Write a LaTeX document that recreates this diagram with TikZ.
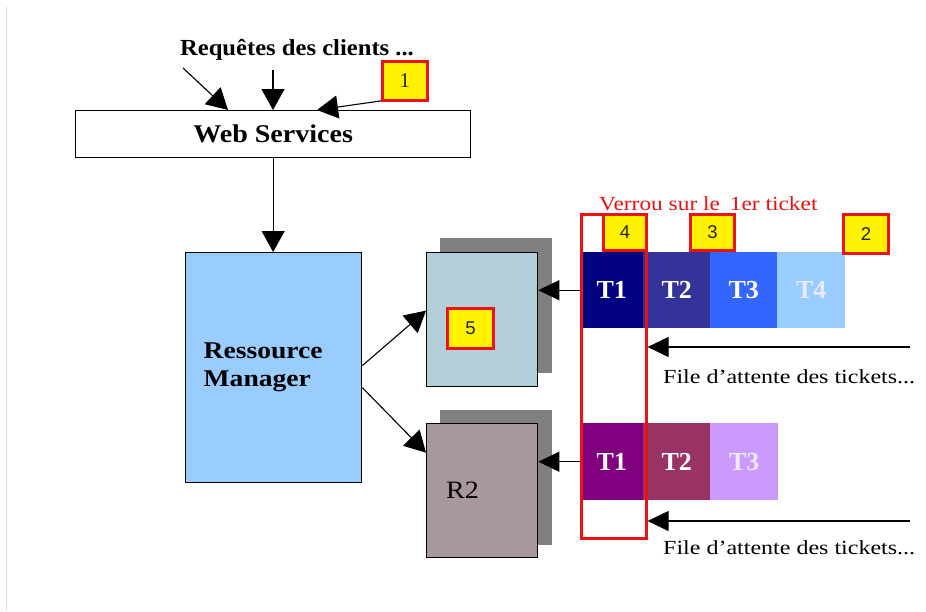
\documentclass[tikz,border=0pt]{standalone}
\usepackage{fontspec}
\setmainfont{Liberation Serif}
\newfontfamily\numfont{Liberation Sans}
\usetikzlibrary{arrows.meta}
\newcommand\wx[2]{\scalebox{#1}[1]{#2}}
\definecolor{rmblue}{HTML}{99CCFF}
\definecolor{ronefill}{HTML}{B2CFDA}
\definecolor{rtwofill}{HTML}{A8979C}
\definecolor{shadowgray}{HTML}{808080}
\definecolor{qa}{HTML}{000080}
\definecolor{qb}{HTML}{333399}
\definecolor{qc}{HTML}{3366FF}
\definecolor{qd}{HTML}{99CCFF}
\definecolor{pa}{HTML}{800080}
\definecolor{pb}{HTML}{993366}
\definecolor{pc}{HTML}{CC99FF}
\definecolor{lockred}{HTML}{EE1111}
\begin{document}
\begin{tikzpicture}[x=1pt,y=-1pt,
  arr/.style={-{Triangle[length=21pt,width=23pt]}, line width=1.1pt},
  smallarr/.style={-{Triangle[length=21pt,width=20pt]}, line width=1.1pt},
  blk/.style={draw=black, line width=1.3pt, inner sep=0pt, anchor=north west},
  shade/.style={fill=shadowgray, inner sep=0pt, anchor=north west},
  tick/.style={inner sep=0pt, anchor=north west, text=white, font=\fontsize{26}{26}\selectfont\bfseries},
  tag/.style={fill=yellow, draw=lockred, line width=2.8pt, inner sep=0pt, anchor=north west, text=black!85, font=\numfont\fontsize{18.5}{18.5}\selectfont},
]
\useasboundingbox (0,0) rectangle (926,611);
\fill[white] (0,0) rectangle (926,611);
\draw[black!15, line width=1pt] (6,7) -- (6,611);

% top text
\node (req) at (297,50) {\fontsize{23}{23}\selectfont\bfseries\wx{1.07}{Requêtes des clients ...}};

% web services
\node[blk, fill=white, minimum width=395pt, minimum height=47pt] (ws) at (75,110)
  {\fontsize{25.5}{25.5}\selectfont\bfseries\wx{1.1}{Web Services}};

% ressource manager
\node[blk, fill=rmblue, minimum width=176pt, minimum height=230pt, text width=140pt, align=left,
  font=\fontsize{24}{28}\selectfont\bfseries] (rm) at (185,252)
  {\wx{1.15}{Ressource}\\\wx{1.15}{Manager}};

% R1
\node[shade, minimum width=112pt, minimum height=135pt] (r1s) at (440,238) {};
\node[blk, fill=ronefill, minimum width=111pt, minimum height=134pt] (r1) at (426,252) {};
% R2
\node[shade, minimum width=112pt, minimum height=135pt] (r2s) at (440,410) {};
\node[blk, fill=rtwofill, minimum width=111pt, minimum height=134pt, text width=72pt, align=left,
  font=\fontsize{25}{25}\selectfont] (r2) at (426,423) {\wx{1.12}{R2}};

% queue 1
\node[tick, fill=qa, minimum width=63pt, minimum height=76pt] (a1) at (580,252) {T1};
\node[tick, fill=qb, minimum width=67pt, minimum height=76pt] (a2) at (643,252) {T2};
\node[tick, fill=qc, minimum width=67pt, minimum height=76pt] (a3) at (710,252) {T3};
\node[tick, fill=qd, minimum width=68pt, minimum height=76pt, text=white!92!blue] (a4) at (777,252) {T4};
% queue 2
\node[tick, fill=pa, minimum width=63pt, minimum height=77pt] (b1) at (580,423) {T1};
\node[tick, fill=pb, minimum width=67pt, minimum height=77pt] (b2) at (643,423) {T2};
\node[tick, fill=pc, minimum width=68pt, minimum height=77pt, text=white!92!blue] (b3) at (710,423) {T3};

% lock rectangle
\node[draw=lockred, line width=2.6pt, inner sep=0pt, anchor=north west, minimum width=65pt, minimum height=324pt] (lock) at (580,213) {};
\node[anchor=west, inner sep=0pt, text=lockred] (lockl) at (599,204)
  {\fontsize{20}{20}\selectfont\wx{1.17}{Verrou sur le~\,1er ticket}};

% tags
\node[tag, minimum width=45pt, minimum height=39pt, font=\fontsize{21}{21}\selectfont] (t1) at (381,60) {1};
\node[tag, minimum width=45pt, minimum height=39pt] (t2) at (842,213) {2};
\node[tag, minimum width=44pt, minimum height=36pt] (t3) at (689,213) {3};
\node[tag, minimum width=43pt, minimum height=36pt] (t4) at (602,213) {4};
\node[tag, minimum width=46pt, minimum height=40pt] (t5) at (446,307) {5};

% queue labels
\coordinate (qs1) at (910,347);
\coordinate (qs2) at (910,521);
\node[anchor=west, inner sep=0pt] (f1) at (663,377) {\fontsize{20}{20}\selectfont\wx{1.2}{File d’attente des tickets...}};
\node[anchor=west, inner sep=0pt] (f2) at (663,548) {\fontsize{20}{20}\selectfont\wx{1.2}{File d’attente des tickets...}};

% connectors
\coordinate (ca) at (183,68);
\coordinate (cb) at (273,70);
\draw[arr] (ca) -- ([xshift=153pt]ws.north west);
\draw[arr] (cb) -- ([xshift=198pt]ws.north west);
\draw[arr] ([yshift=-20pt]t1.west) -- ([xshift=242pt]ws.north west);
\draw[arr] (ws.south) -- (ws.south |- rm.north);
\draw[arr] ([yshift=2pt]rm.east) -- ([yshift=9pt]r1.west);
\draw[arr] ([yshift=-20pt]rm.east) -- ([yshift=38pt]r2.west);
\draw[smallarr] (a1.west) -- (a1.west -| r1.east);
\draw[smallarr] (b1.west) -- (b1.west -| r2.east);
\draw[smallarr] (qs1) -- (qs1 -| lock.east);
\draw[smallarr] (qs2) -- (qs2 -| lock.east);
\end{tikzpicture}
\end{document}
